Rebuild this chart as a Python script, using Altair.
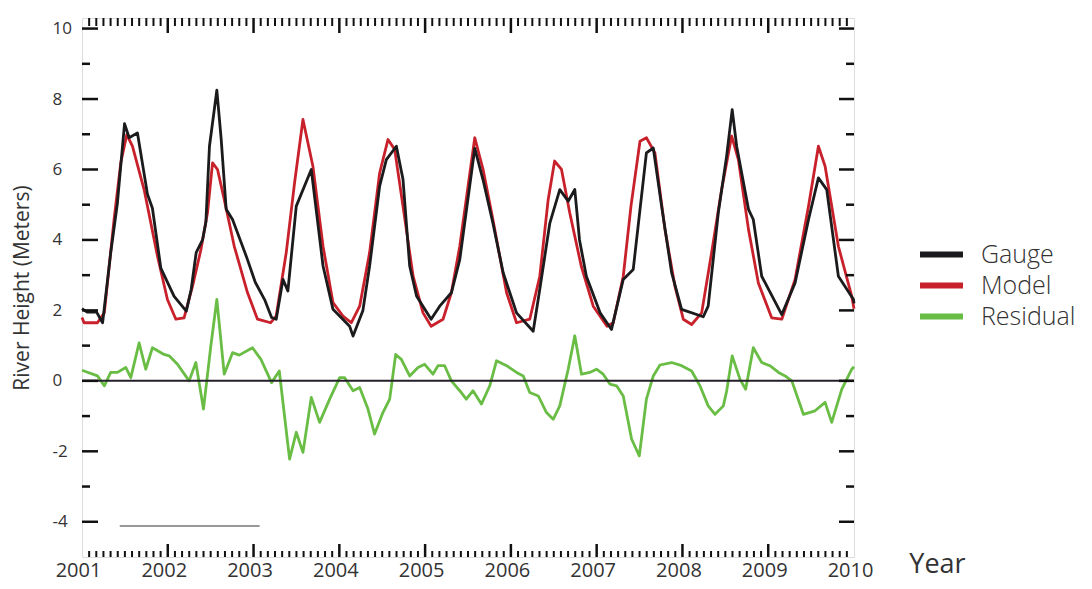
import altair as alt
import pandas as pd

W, H = 772, 539
Y_MIN, Y_MAX = -5, 10.3

# ---- data: time in years after 2001.0, river height in metres ----
gauge_t = [0.0, 0.06, 0.17, 0.24, 0.335, 0.413, 0.496, 0.55, 0.646, 0.763, 0.821, 0.919,
           1.074, 1.216, 1.273, 1.331, 1.405, 1.444, 1.486, 1.572, 1.623, 1.681, 1.755, 1.915,
           2.02, 2.13, 2.21, 2.264, 2.343, 2.40, 2.498, 2.673, 2.81, 2.926,
           3.12, 3.16, 3.275, 3.353, 3.47, 3.548, 3.665, 3.742, 3.82, 3.9,
           4.07, 4.17, 4.306, 4.404, 4.579, 4.676, 4.79, 4.91,
           5.066, 5.26, 5.337, 5.454, 5.57, 5.668, 5.745, 5.8, 5.88,
           6.04, 6.173, 6.31, 6.426, 6.58, 6.66, 6.757, 6.874, 6.99,
           7.243, 7.3, 7.418, 7.515, 7.58, 7.632, 7.77, 7.826, 7.924,
           8.158, 8.313, 8.47, 8.585, 8.682, 8.818, 8.994, 9.0]
gauge_v = [2.05, 1.95, 1.95, 1.65, 3.64, 5.05, 7.3, 6.9, 7.04, 5.3, 4.9, 3.2,
           2.4, 1.98, 2.6, 3.64, 4.0, 4.5, 6.66, 8.25, 6.85, 4.87, 4.58, 3.54,
           2.8, 2.3, 1.8, 1.75, 2.88, 2.55, 4.96, 6.0, 3.26, 2.03,
           1.55, 1.27, 2.0, 3.26, 5.53, 6.28, 6.66, 5.72, 3.26, 2.41,
           1.75, 2.12, 2.5, 3.44, 6.6, 5.7, 4.48, 3.07,
           1.93, 1.41, 2.6, 4.48, 5.43, 5.1, 5.43, 4.0, 2.97,
           1.93, 1.46, 2.88, 3.16, 6.47, 6.61, 4.96, 3.07, 2.03,
           1.82, 2.12, 4.77, 6.38, 7.7, 6.66, 4.87, 4.58, 2.97,
           1.88, 2.78, 4.58, 5.76, 5.43, 2.97, 2.31, 2.2]

model_t = [0.0, 0.024, 0.18, 0.26, 0.374, 0.452, 0.522, 0.588, 0.724, 0.88, 0.996,
           1.094, 1.19, 1.288, 1.386, 1.463, 1.522, 1.58, 1.658, 1.775, 1.93,
           2.046, 2.2, 2.264, 2.381, 2.478, 2.576, 2.692, 2.81, 2.926,
           3.042, 3.14, 3.237, 3.353, 3.47, 3.567, 3.645, 3.742, 3.86, 3.976,
           4.07, 4.209, 4.306, 4.404, 4.579, 4.676, 4.79, 4.95,
           5.066, 5.22, 5.337, 5.435, 5.51, 5.59, 5.686, 5.82, 5.96,
           6.12, 6.193, 6.31, 6.4, 6.505, 6.58, 6.679, 6.796, 6.913,
           7.01, 7.107, 7.224, 7.34, 7.457, 7.574, 7.652, 7.77, 7.885,
           8.04, 8.158, 8.313, 8.47, 8.585, 8.663, 8.818, 8.974, 9.0]
model_v = [1.8, 1.65, 1.65, 1.93, 4.58, 6.19, 6.99, 6.66, 5.43, 3.54, 2.31,
           1.75, 1.79, 2.68, 3.72, 4.77, 6.19, 6.0, 5.15, 3.82, 2.5,
           1.75, 1.65, 1.84, 3.64, 5.62, 7.42, 6.09, 3.82, 2.22,
           1.84, 1.65, 2.12, 3.64, 5.9, 6.85, 6.57, 4.96, 2.97, 1.93,
           1.55, 1.75, 2.5, 3.82, 6.9, 6.0, 4.58, 2.5,
           1.65, 1.75, 2.97, 5.15, 6.24, 6.0, 4.77, 3.26, 2.12,
           1.55, 1.65, 2.97, 4.96, 6.8, 6.9, 6.47, 4.3, 2.68,
           1.75, 1.6, 1.93, 3.64, 5.43, 6.95, 6.28, 4.3, 2.78,
           1.79, 1.75, 2.88, 4.96, 6.66, 6.09, 3.82, 2.4, 2.05]

resid_t = [0.0, 0.024, 0.18, 0.26, 0.335, 0.413, 0.51, 0.569, 0.666, 0.743, 0.821, 0.957,
           1.016, 1.113, 1.249, 1.327, 1.416, 1.502, 1.572, 1.658, 1.755, 1.833, 1.988,
           2.086, 2.21, 2.30, 2.42, 2.498, 2.576, 2.673, 2.77, 2.887,
           3.004, 3.062, 3.16, 3.237, 3.334, 3.411, 3.508, 3.587, 3.657, 3.723, 3.82, 3.917, 3.995,
           4.092, 4.15, 4.228, 4.306, 4.404, 4.48, 4.559, 4.656, 4.754, 4.832, 4.95,
           5.066, 5.144, 5.22, 5.32, 5.415, 5.493, 5.57, 5.668, 5.745, 5.823, 5.92, 5.998,
           6.076, 6.154, 6.232, 6.31, 6.407, 6.497, 6.58, 6.66, 6.738, 6.874, 6.99,
           7.107, 7.204, 7.3, 7.38, 7.477, 7.516, 7.58, 7.67, 7.737, 7.826, 7.924,
           8.02, 8.12, 8.197, 8.275, 8.41, 8.546, 8.663, 8.74, 8.857, 8.974, 9.0]
resid_v = [0.3, 0.28, 0.14, -0.14, 0.24, 0.24, 0.38, 0.09, 1.08, 0.33, 0.94, 0.75,
           0.71, 0.47, 0.0, 0.52, -0.80, 0.99, 2.31, 0.19, 0.80, 0.73, 0.94,
           0.61, -0.05, 0.28, -2.22, -1.46, -2.03, -0.47, -1.18, -0.52,
           0.09, 0.09, -0.28, -0.19, -0.80, -1.51, -0.90, -0.52, 0.75, 0.61, 0.14, 0.38, 0.47,
           0.19, 0.43, 0.43, 0.0, -0.28, -0.52, -0.28, -0.66, -0.14, 0.57, 0.43,
           0.24, 0.14, -0.33, -0.43, -0.90, -1.09, -0.71, 0.33, 1.28, 0.19, 0.24, 0.33,
           0.19, -0.09, -0.14, -0.43, -1.65, -2.13, -0.52, 0.14, 0.45, 0.52, 0.43,
           0.28, -0.14, -0.71, -0.95, -0.71, -0.28, 0.71, 0.05, -0.24, 0.94, 0.52,
           0.43, 0.24, 0.14, 0.0, -0.95, -0.85, -0.61, -1.18, -0.24, 0.33, 0.4]

series_names = ["Gauge", "Model", "Residual"]
series_colors = ["#1b1a1c", "#c8212b", "#69bd45"]

year_labels = [2001, 2002, 2003, 2004, 2005, 2006, 2007, 2008, 2009, 2010]
y_labels = [-4, -2, 0, 2, 4, 6, 8, 10]
y_odd = [-3, -1, 1, 3, 5, 7, 9]
x_major = [2002, 2003, 2004, 2005, 2006, 2007, 2008, 2009]
x_minor = [y + m / 12 for y in range(2001, 2010) for m in range(1, 12)]

# stray rule left in the lower-left corner of the original figure
stray_x, stray_x2, stray_h = 2001.44, 2003.07, -4.12


def frame(name, ts, vs):
    return pd.DataFrame({"series": name, "year": [2001 + t for t in ts],
                         "h": vs, "order": list(range(len(ts)))})


df = pd.concat([frame("Gauge", gauge_t, gauge_v),
                frame("Model", model_t, model_v),
                frame("Residual", resid_t, resid_v)], ignore_index=True)

FONT = "Open Sans"
TXT = "#333333"

x_scale = alt.Scale(domain=[2001, 2010], nice=False, zero=False)
y_scale = alt.Scale(domain=[Y_MIN, Y_MAX], nice=False, zero=False)

x_axis = alt.Axis(values=year_labels, format="d", labelFontSize=20, labelColor=TXT,
                  labelFont=FONT, tickSize=0, domain=False, grid=False, labelPadding=19,
                  labelBaseline="alphabetic",
                  labelOffset=-4, labelFlush=False, labelOverlap=False,
                  title="Year", titleX=855, titleY=15, titleFontSize=27,
                  titleFontWeight="normal", titleAlign="center", titleBaseline="alphabetic",
                  titleColor=TXT, titleFont=FONT)
y_axis = alt.Axis(values=y_labels, labelFontSize=17, labelColor=TXT, labelFont=FONT,
                  labelExpr="toString(datum.value)",
                  tickSize=0, domain=False, grid=False, labelPadding=30, labelAlign="left",
                  labelFlush=False, labelOverlap=False,
                  title="River Height (Meters)", titleFontSize=21, titleFontWeight="normal",
                  titleColor=TXT, titleFont=FONT, titleAngle=270, titleX=-60, titleY=H / 2,
                  titleAlign="center", titleBaseline="middle")

color = alt.Color("series:N",
                  scale=alt.Scale(domain=series_names, range=series_colors),
                  legend=alt.Legend(title=None, orient="none", legendX=835, legendY=221,
                                    symbolType="stroke", symbolStrokeWidth=6,
                                    symbolSize=1849, labelFontSize=25, labelFont=FONT,
                                    labelFontWeight=300, clipHeight=31,
                                    labelColor=TXT, labelOffset=15, rowPadding=0))

X = alt.X("year:Q", scale=x_scale, axis=x_axis)
Y = alt.Y("h:Q", scale=y_scale, axis=y_axis)

base = alt.Chart(df).mark_line(strokeWidth=2.8, strokeJoin="round").encode(
    x=X, y=Y, color=color, order="order:Q",
)
model_layer = base.transform_filter(alt.datum.series == "Model")
gauge_layer = base.transform_filter(alt.datum.series == "Gauge")
resid_layer = base.transform_filter(alt.datum.series == "Residual")

zero_line = alt.Chart(pd.DataFrame({"h": [0]})).mark_rule(
    color="#251f2b", strokeWidth=2).encode(y=Y)

stray = alt.Chart(pd.DataFrame({"year": [stray_x], "x2": [stray_x2], "h": [stray_h]})).mark_rule(
    color="#333333", strokeWidth=1.2).encode(x=X, x2="x2:Q", y=Y)

TICK = "#111111"
xmaj = pd.DataFrame({"year": x_major})
xmin = pd.DataFrame({"year": x_minor})
ymaj = pd.DataFrame({"h": y_labels})
yodd = pd.DataFrame({"h": y_odd})


def xticks(data, y0, y1, sw):
    return alt.Chart(data).mark_rule(color=TICK, strokeWidth=sw).encode(
        x=X, y=alt.value(y0), y2=alt.value(y1))


def yticks(data, x0, x1, sw):
    return alt.Chart(data).mark_rule(color=TICK, strokeWidth=sw).encode(
        y=Y, x=alt.value(x0), x2=alt.value(x1))


ticks = [
    xticks(xmaj, H - 13, H, 2.5), xticks(xmin, H - 6, H, 2),
    xticks(xmaj, 0, 15, 2.5), xticks(xmin, 0, 8, 2),
    yticks(ymaj, 0, 16, 2.5), yticks(yodd, 0, 8, 2.5),
    yticks(ymaj, W - 15, W, 2.5), yticks(yodd, W - 8, W, 2.5),
]

chart = alt.layer(
    model_layer, gauge_layer, resid_layer, zero_line, stray, *ticks
).properties(
    width=W, height=H,
    padding={"left": 74, "top": 10, "right": 230, "bottom": 24},
    autosize=alt.AutoSizeParams(type="none"),
).configure_view(stroke="#111111", strokeWidth=3).configure(font=FONT)

chart.save("out.html", embed_options={"renderer": "svg", "actions": False})
